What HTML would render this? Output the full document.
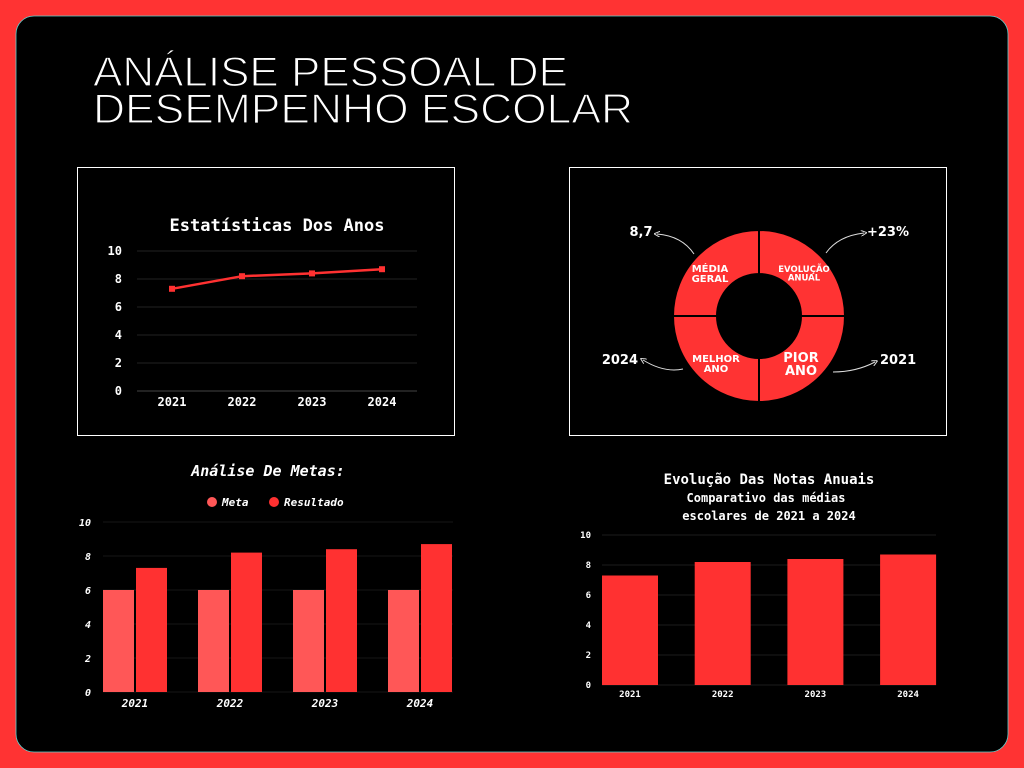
<!DOCTYPE html>
<html><head><meta charset="utf-8"><style>
html,body{margin:0;padding:0;background:#ff3333;}
svg{display:block;}
text{font-family:"DejaVu Sans Mono","Liberation Mono",monospace;}
</style></head><body>
<svg id="s" width="1024" height="768" viewBox="0 0 1024 768" xmlns="http://www.w3.org/2000/svg">
<defs><marker id="ah" markerWidth="6" markerHeight="6" refX="3" refY="3" orient="auto-start-reverse"><path d="M0,0 L6,3 L0,6" fill="none" stroke="#ddd" stroke-width="1"/></marker></defs>
<rect x="0" y="0" width="1024" height="768" fill="#ff3333"/>
<rect x="16" y="16" width="992" height="736" rx="18" fill="#000" stroke="#5fd3d0" stroke-width="0.8"/>
<g fill="#fff" stroke="#000" stroke-width="1.3" font-size="42">
<text x="93" y="86" textLength="475" lengthAdjust="spacingAndGlyphs" style="font-family:'Liberation Sans',sans-serif">ANÁLISE PESSOAL DE</text>
<text x="93" y="123" textLength="540" lengthAdjust="spacingAndGlyphs" style="font-family:'Liberation Sans',sans-serif">DESEMPENHO ESCOLAR</text>
</g>
<rect x="77.5" y="167.5" width="377" height="268" fill="none" stroke="#fff" stroke-width="1"/>
<rect x="569.5" y="167.5" width="377" height="268" fill="none" stroke="#fff" stroke-width="1"/>
<text x="277" y="231" text-anchor="middle" fill="#fff" font-size="17" font-weight="bold">Estatísticas Dos Anos</text>
<g id="line"></g>
<g id="donut"></g>
<text x="268" y="476" text-anchor="middle" fill="#fff" font-size="15" font-weight="bold" font-style="italic">Análise De Metas:</text>
<g>
<circle cx="212" cy="502" r="5" fill="#ff5757"/>
<text x="222" y="506" fill="#fff" font-size="11" font-style="italic" font-weight="bold">Meta</text>
<circle cx="274" cy="502" r="5" fill="#ff3131"/>
<text x="284" y="506" fill="#fff" font-size="11" font-style="italic" font-weight="bold">Resultado</text>
</g>
<g id="bars1"></g>
<text x="769" y="484" text-anchor="middle" fill="#fff" font-size="14" font-weight="bold">Evolução Das Notas Anuais</text>
<text x="766" y="502" text-anchor="middle" fill="#fff" font-size="12" font-weight="bold">Comparativo das médias</text>
<text x="769" y="520" text-anchor="middle" fill="#fff" font-size="12" font-weight="bold">escolares de 2021 a 2024</text>
<g id="bars2"></g>
</svg>
<script>
const years = ["2021","2022","2023","2024"];
const resultado = [7.3, 8.2, 8.4, 8.7];
const meta = [6, 6, 6, 6];
const yTicks = [0, 2, 4, 6, 8, 10];
const donutLabels = [["MÉDIA","GERAL"],["EVOLUÇÃO","ANUAL"],["PIOR","ANO"],["MELHOR","ANO"]];
const donutValues = ["8,7","+23%","2021","2024"];

const NS="http://www.w3.org/2000/svg";
function mk(tag,attrs,parent,txt){const e=document.createElementNS(NS,tag);for(const k in attrs)e.setAttribute(k,attrs[k]);if(txt!==undefined)e.textContent=txt;parent.appendChild(e);return e;}

(function(){
const g=document.getElementById('line');
const x0=137,x1=417,yb=391,yt=251;
const ys=v=>yb-(v/10)*(yb-yt);
const band=(x1-x0)/years.length;
const xs=i=>x0+band*(i+0.5);
yTicks.forEach(t=>{
 const l=mk('line',{x1:x0,x2:x1,y1:ys(t),y2:ys(t),stroke:t===0?'#444':'#222','stroke-width':1},g);
 
 
 const tx=mk('text',{x:122,y:ys(t)+4,'text-anchor':'end',fill:'#fff','font-size':12,'font-weight':'bold'},g,String(t));
 
 
});
years.forEach((y,i)=>{
 const tx=mk('text',{x:xs(i),y:406,'text-anchor':'middle',fill:'#fff','font-size':12,'font-weight':'bold'},g,y);
 
 
});
const p=mk('polyline',{points:resultado.map((v,i)=>xs(i)+','+ys(v)).join(' '),fill:'none',stroke:'#ff3131','stroke-width':2.5},g);


resultado.forEach((v,i)=>{
 const r=mk('rect',{x:xs(i)-3,y:ys(v)-3,width:6,height:6,fill:'#ff3131'},g);
 
 
});
})();

(function(){
const g=document.getElementById('donut');
const cx=759,cy=316,R=86,r=42;
const quads=[[180,270],[270,360],[0,90],[90,180]];
function pt(a,rad){const t=a*Math.PI/180;return [cx+rad*Math.cos(t),cy+rad*Math.sin(t)];}
quads.forEach((q,i)=>{
 const [a,b]=q;const p1=pt(a,R),p2=pt(b,R),p3=pt(b,r),p4=pt(a,r);
 const d=`M${p1} A${R},${R} 0 0 1 ${p2} L${p3} A${r},${r} 0 0 0 ${p4} Z`;
 const s=mk('path',{d:d,fill:'#ff3333',stroke:'#000','stroke-width':2},g);
 
 
});
const lp=[[710,272,10],[804,272,8.5],[801,362,13],[716,362,10]];
donutLabels.forEach((L,i)=>{
 const [x,y,fs]=lp[i];
 const t=mk('text',{x:x,y:y,'text-anchor':'middle',fill:'#fff','font-size':fs,'font-weight':'bold',style:"font-family:'DejaVu Sans',sans-serif"},g);
 
 
 L.forEach((w,j)=>{mk('tspan',{x:x,dy:j===0?0:fs},t,w);});
});
const vp=[[641,236,'middle'],[888,236,'middle'],[880,364,'start'],[638,364,'end']];
donutValues.forEach((v,i)=>{
 const t=mk('text',{x:vp[i][0],y:vp[i][1],'text-anchor':vp[i][2],fill:'#fff','font-size':13,'font-weight':'bold',style:"font-family:'DejaVu Sans',sans-serif"},g,v);
 
 
});
const arrows=["M694,254 Q682,236 657,234","M826,253 Q838,236 864,233","M833,372 Q856,372 875,362","M683,369 Q664,373 643,360"];
arrows.forEach(d=>{
 const a=mk('path',{d:d,fill:'none',stroke:'#ddd','stroke-width':1,'marker-end':'url(#ah)'},g);
 
 
});
})();

(function(){
const g=document.getElementById('bars1');
const x0=103,x1=453,yb=692,yt=522;
const ys=v=>yb-(v/10)*(yb-yt);
const band=95,bw=31;
yTicks.forEach(t=>{
 const l=mk('line',{x1:x0,x2:x1,y1:ys(t),y2:ys(t),stroke:'#161616','stroke-width':1},g);
 
 
 const tx=mk('text',{x:91,y:ys(t)+4,'text-anchor':'end',fill:'#fff','font-size':10,'font-style':'italic','font-weight':'bold'},g,String(t));
 
 
});
years.forEach((y,i)=>{
 const gx=x0+i*band;
 const m=mk('rect',{x:gx,y:ys(meta[i]),width:bw,height:yb-ys(meta[i]),fill:'#ff5757'},g);
 
 
 const r=mk('rect',{x:gx+bw+2,y:ys(resultado[i]),width:bw,height:yb-ys(resultado[i]),fill:'#ff3131'},g);
 
 
 const tx=mk('text',{x:gx+bw+1,y:707,'text-anchor':'middle',fill:'#fff','font-size':11,'font-style':'italic','font-weight':'bold'},g,y);
 
 
});
})();

(function(){
const g=document.getElementById('bars2');
const x0=602,x1=936,yb=685,yt=535;
const ys=v=>yb-(v/10)*(yb-yt);
const step=92.7,bw=56;
yTicks.forEach(t=>{
 const l=mk('line',{x1:x0,x2:x1,y1:ys(t),y2:ys(t),stroke:'#1c1c1c','stroke-width':1},g);
 
 
 const tx=mk('text',{x:591,y:ys(t)+3,'text-anchor':'end',fill:'#fff','font-size':9,'font-weight':'bold'},g,String(t));
 
 
});
years.forEach((y,i)=>{
 const bx=x0+i*step;
 const r=mk('rect',{x:bx,y:ys(resultado[i]),width:bw,height:yb-ys(resultado[i]),fill:'#ff3131'},g);
 
 
 const tx=mk('text',{x:bx+bw/2,y:697,'text-anchor':'middle',fill:'#fff','font-size':9,'font-weight':'bold'},g,y);
 
 
});
})();
</script>
</body></html>
